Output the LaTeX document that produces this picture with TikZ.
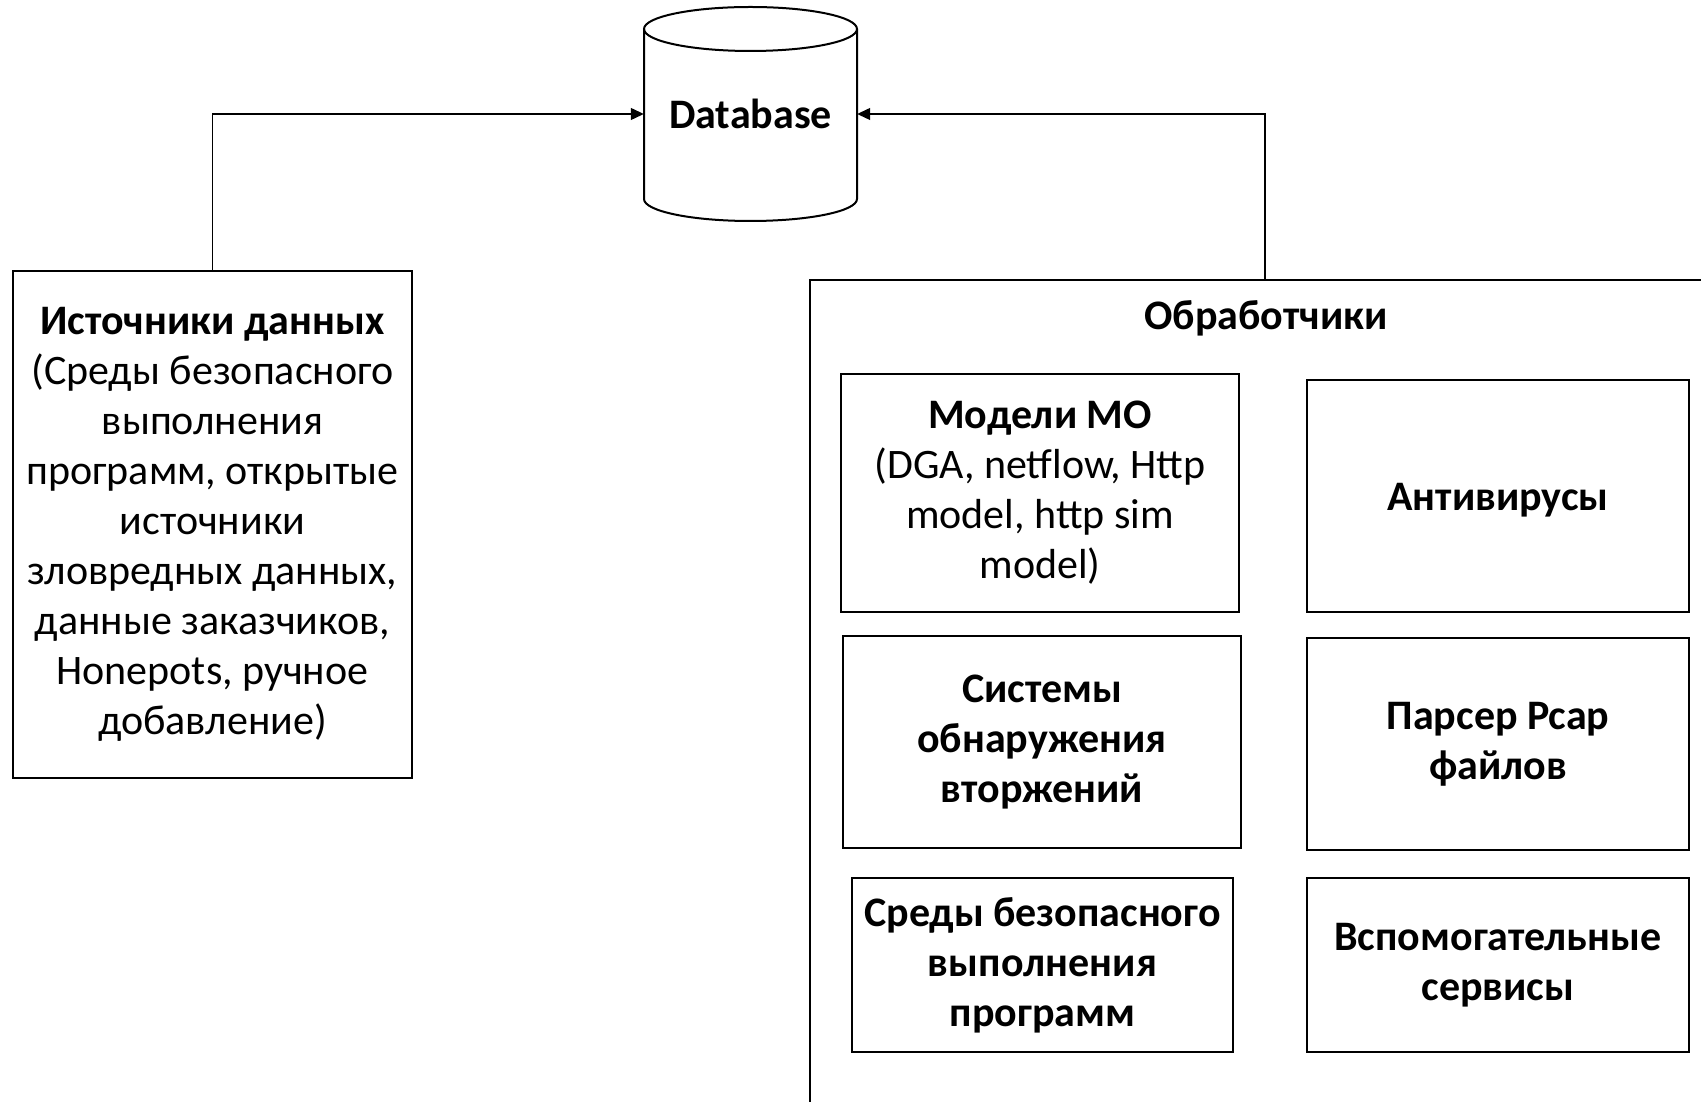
\documentclass[tikz,border=0pt]{standalone}
\usepackage{fontspec}
\setmainfont{Carlito}
\usetikzlibrary{arrows.meta}

\begin{document}
\begin{tikzpicture}[x=1pt,y=1pt,
  txt/.style={font=\fontsize{42}{50}\selectfont},
  box/.style={draw, line width=1.5pt, rectangle, inner sep=0pt, align=center, txt,
    execute at begin node={\rule{0pt}{36pt}}},
  bbox/.style={box, font=\fontsize{42}{50}\selectfont\bfseries},
  conn/.style={line width=1.2pt, -{Triangle[length=13pt,width=12pt]}},
  cyl/.style={line width=2pt},
]
\useasboundingbox (0,0) rectangle (1701,1101);
\clip (0,0) rectangle (1701,1101);

% database cylinder
\node (db) [minimum width=213, minimum height=214, inner sep=0pt,
  font=\fontsize{42}{50}\selectfont\bfseries] at (750.5,987) {Database};
\draw[cyl] (750.5,1072) ellipse [x radius=106.5, y radius=22];
\draw[cyl] (644,1072) -- (644,902)
  arc[start angle=180, end angle=360, x radius=106.5, y radius=22] -- (857,1072);

% data sources
\node (src) [box, minimum width=399, minimum height=507] at (212.5,576.5)
  {\textbf{Источники данных}\\(Среды безопасного\\выполнения\\программ, открытые\\источники\\зловредных данных,\\данные заказчиков,\\Honepots, ручное\\добавление)};

% processors container
\node (proc) [draw, line width=1.5pt, minimum width=910, minimum height=850, inner sep=0pt] at (1265,396) {};
\node (proctitle) [txt, font=\fontsize{42}{50}\selectfont\bfseries] at (1266,783) {Обработчики};

\node (ml)   [bbox, minimum width=398, minimum height=238] at (1040,608)
  {Модели МО\\\mdseries(DGA, netflow, Http\\\mdseries model, http sim\\\mdseries model)};
\node (av)   [bbox, minimum width=382, minimum height=232] at (1498,605) {Антивирусы};
\node (ids)  [bbox, minimum width=398, minimum height=212] at (1042,359)
  {Системы\\обнаружения\\вторжений};
\node (pcap) [bbox, minimum width=382, minimum height=212] at (1498,357)
  {Парсер Pcap\\файлов};
\node (sb)   [bbox, minimum width=381, minimum height=174] at (1042.5,136)
  {Среды безопасного\\выполнения\\программ};
\node (aux)  [bbox, minimum width=382, minimum height=174] at (1498,136)
  {Вспомогательные\\сервисы};

% connectors into the database
\draw[conn] (src.north) |- (db.west);
\draw[conn] (proc.north) |- (db.east);
\end{tikzpicture}
\end{document}
